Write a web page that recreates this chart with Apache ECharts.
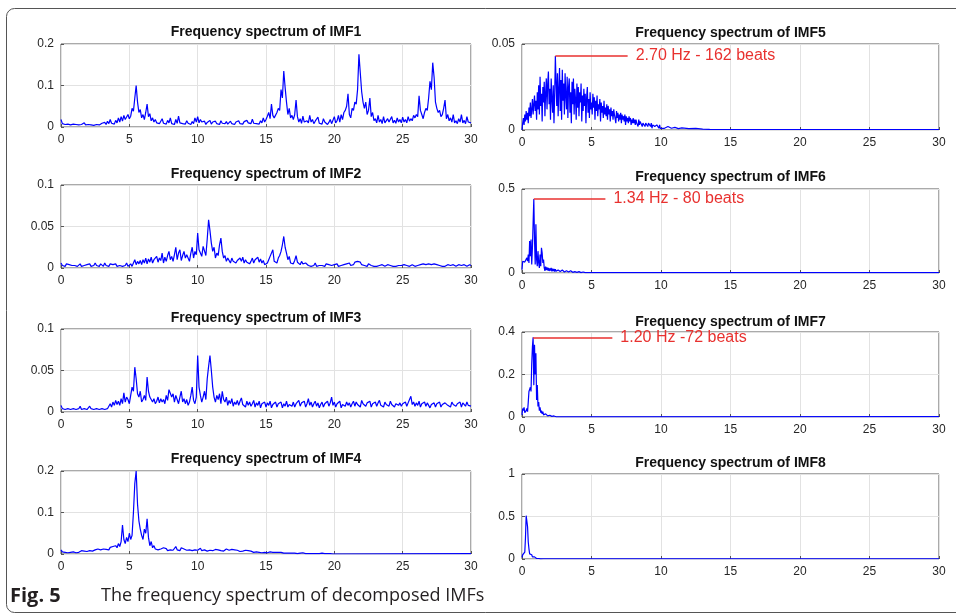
<!DOCTYPE html>
<html>
<head>
<meta charset="utf-8">
<script src="https://cdn.jsdelivr.net/npm/echarts@6/dist/echarts.min.js"></script>
<style>
html,body{margin:0;padding:0;background:#fff}
#main{width:956px;height:616px}
</style>
</head>
<body>
<div id="main"></div>
<script>
// amplitudes, one value per frequency step starting at 0 Hz
var titles = ['Frequency spectrum of IMF1','Frequency spectrum of IMF2','Frequency spectrum of IMF3','Frequency spectrum of IMF4',
              'Frequency spectrum of IMF5','Frequency spectrum of IMF6','Frequency spectrum of IMF7','Frequency spectrum of IMF8'];
var yMax  = [0.2, 0.1, 0.1, 0.2, 0.05, 0.5, 0.4, 1];
var yStep = [0.1, 0.05, 0.05, 0.1, 0.05, 0.5, 0.2, 0.5];
var freqStep = [0.1, 0.1, 0.1, 0.1, 0.05, 0.05, 0.05, 0.05];

var imf1Amp = [
 0.018,0.008,0.012,0.006,0.010,0.007,0.011,0.005,0.009,0.007,
 0.010,0.006,0.008,0.005,0.009,0.006,0.007,0.010,0.005,0.008,
 0.006,0.009,0.005,0.007,0.004,0.008,0.006,0.010,0.005,0.007,
 0.009,0.005,0.011,0.006,0.014,0.008,0.018,0.009,0.013,0.007,
 0.016,0.010,0.022,0.012,0.025,0.014,0.028,0.018,0.024,0.030,
 0.020,0.026,0.045,0.038,0.070,0.100,0.060,0.035,0.042,0.022,
 0.030,0.018,0.035,0.055,0.025,0.032,0.015,0.022,0.012,0.018,
 0.010,0.014,0.008,0.012,0.020,0.009,0.011,0.007,0.016,0.010,
 0.022,0.008,0.012,0.006,0.018,0.009,0.026,0.010,0.014,0.008,
 0.012,0.007,0.015,0.009,0.011,0.006,0.013,0.008,0.022,0.012,
 0.025,0.010,0.018,0.012,0.008,0.014,0.006,0.011,0.009,0.016,
 0.007,0.012,0.009,0.014,0.008,0.011,0.006,0.015,0.009,0.012,
 0.008,0.013,0.007,0.010,0.014,0.008,0.011,0.006,0.012,0.009,
 0.015,0.008,0.011,0.007,0.013,0.009,0.016,0.010,0.012,0.008,
 0.019,0.009,0.013,0.008,0.011,0.007,0.015,0.010,0.022,0.012,
 0.018,0.026,0.035,0.020,0.055,0.028,0.022,0.018,0.035,0.045,
 0.040,0.090,0.070,0.135,0.095,0.060,0.030,0.045,0.022,0.028,
 0.018,0.030,0.065,0.025,0.012,0.020,0.009,0.026,0.012,0.008,
 0.015,0.010,0.028,0.012,0.018,0.008,0.014,0.011,0.024,0.009,
 0.013,0.007,0.020,0.012,0.016,0.006,0.011,0.018,0.008,0.012,
 0.025,0.010,0.015,0.028,0.012,0.030,0.018,0.035,0.040,0.050,
 0.080,0.030,0.022,0.045,0.040,0.060,0.055,0.090,0.175,0.130,
 0.085,0.060,0.045,0.060,0.030,0.040,0.070,0.025,0.035,0.015,
 0.020,0.010,0.028,0.012,0.018,0.008,0.025,0.010,0.014,0.020,
 0.012,0.008,0.025,0.010,0.016,0.009,0.022,0.012,0.018,0.010,
 0.024,0.012,0.018,0.010,0.025,0.014,0.020,0.015,0.028,0.022,
 0.030,0.025,0.075,0.040,0.030,0.020,0.035,0.045,0.040,0.070,
 0.110,0.090,0.155,0.120,0.060,0.045,0.035,0.040,0.025,0.030,
 0.045,0.065,0.020,0.030,0.015,0.022,0.012,0.030,0.010,0.015,
 0.008,0.020,0.012,0.030,0.010,0.016,0.008,0.025,0.012,0.015,
 0.010];

var imf2Amp = [
 0.006,0.003,0.004,0.002,0.005,0.003,0.004,0.002,0.003,0.005,
 0.003,0.004,0.002,0.003,0.005,0.002,0.004,0.003,0.002,0.004,
 0.003,0.005,0.002,0.004,0.003,0.006,0.003,0.004,0.002,0.005,
 0.004,0.002,0.006,0.003,0.004,0.002,0.005,0.003,0.004,0.003,
 0.005,0.002,0.004,0.003,0.005,0.002,0.004,0.003,0.006,0.002,
 0.003,0.005,0.002,0.004,0.010,0.004,0.008,0.005,0.009,0.004,
 0.010,0.006,0.012,0.005,0.011,0.007,0.013,0.006,0.010,0.008,
 0.014,0.007,0.012,0.009,0.018,0.006,0.013,0.008,0.015,0.020,
 0.010,0.014,0.008,0.016,0.025,0.010,0.018,0.022,0.009,0.015,
 0.020,0.012,0.016,0.015,0.008,0.018,0.025,0.012,0.020,0.016,
 0.042,0.022,0.018,0.014,0.026,0.028,0.015,0.035,0.058,0.045,
 0.030,0.020,0.025,0.012,0.018,0.015,0.028,0.036,0.020,0.012,
 0.015,0.008,0.012,0.010,0.006,0.012,0.008,0.010,0.006,0.009,
 0.007,0.012,0.008,0.013,0.006,0.010,0.007,0.009,0.005,0.008,
 0.012,0.006,0.010,0.008,0.013,0.007,0.011,0.006,0.009,0.004,
 0.002,0.006,0.010,0.014,0.012,0.022,0.008,0.010,0.006,0.012,
 0.015,0.020,0.028,0.038,0.025,0.018,0.010,0.014,0.006,0.008,
 0.005,0.009,0.015,0.007,0.006,0.004,0.008,0.005,0.003,0.006,
 0.004,0.003,0.005,0.002,0.004,0.003,0.006,0.002,0.004,0.003,
 0.005,0.003,0.004,0.002,0.005,0.003,0.004,0.006,0.003,0.002,
 0.004,0.003,0.005,0.002,0.004,0.003,0.002,0.004,0.003,0.005,
 0.004,0.006,0.003,0.005,0.004,0.007,0.006,0.008,0.010,0.007,
 0.004,0.005,0.003,0.004,0.002,0.005,0.007,0.003,0.004,0.002,
 0.003,0.002,0.004,0.003,0.002,0.004,0.003,0.002,0.003,0.004,
 0.002,0.003,0.004,0.002,0.003,0.002,0.004,0.003,0.002,0.003,
 0.003,0.004,0.002,0.003,0.004,0.002,0.003,0.004,0.003,0.002,
 0.004,0.003,0.002,0.004,0.003,0.005,0.003,0.004,0.003,0.005,
 0.003,0.004,0.006,0.005,0.003,0.004,0.002,0.003,0.004,0.002,
 0.003,0.002,0.003,0.004,0.002,0.003,0.002,0.004,0.003,0.002,
 0.003,0.004,0.002,0.003,0.002,0.004,0.003,0.002,0.003,0.004,
 0.003];

var imf3Amp = [
 0.008,0.004,0.006,0.003,0.005,0.004,0.006,0.003,0.005,0.004,
 0.006,0.003,0.005,0.004,0.007,0.003,0.005,0.004,0.006,0.003,
 0.005,0.007,0.004,0.006,0.003,0.005,0.004,0.006,0.003,0.005,
 0.004,0.006,0.003,0.005,0.004,0.007,0.010,0.006,0.012,0.008,
 0.014,0.009,0.013,0.008,0.016,0.010,0.023,0.012,0.018,0.015,
 0.010,0.020,0.030,0.025,0.054,0.040,0.022,0.018,0.025,0.012,
 0.015,0.020,0.014,0.042,0.025,0.018,0.020,0.012,0.016,0.010,
 0.013,0.018,0.011,0.016,0.012,0.015,0.010,0.020,0.014,0.027,
 0.025,0.018,0.022,0.012,0.020,0.015,0.010,0.018,0.025,0.012,
 0.016,0.010,0.015,0.008,0.012,0.020,0.030,0.014,0.010,0.018,
 0.068,0.030,0.020,0.012,0.018,0.025,0.015,0.040,0.055,0.068,
 0.050,0.030,0.018,0.012,0.020,0.015,0.022,0.010,0.025,0.015,
 0.012,0.018,0.008,0.014,0.010,0.016,0.007,0.012,0.009,0.014,
 0.008,0.013,0.017,0.009,0.011,0.006,0.013,0.008,0.012,0.007,
 0.010,0.014,0.006,0.011,0.008,0.013,0.005,0.010,0.008,0.012,
 0.006,0.011,0.008,0.013,0.005,0.009,0.007,0.012,0.006,0.010,
 0.008,0.012,0.005,0.010,0.007,0.013,0.006,0.009,0.011,0.007,
 0.012,0.006,0.010,0.008,0.014,0.007,0.011,0.009,0.013,0.006,
 0.010,0.016,0.008,0.012,0.006,0.010,0.013,0.007,0.011,0.005,
 0.009,0.012,0.006,0.010,0.008,0.013,0.007,0.011,0.018,0.008,
 0.012,0.006,0.010,0.008,0.013,0.005,0.009,0.011,0.007,0.012,
 0.008,0.011,0.006,0.010,0.013,0.007,0.012,0.009,0.011,0.006,
 0.014,0.010,0.012,0.007,0.011,0.009,0.013,0.006,0.010,0.008,
 0.012,0.007,0.011,0.014,0.008,0.010,0.006,0.012,0.009,0.011,
 0.007,0.013,0.009,0.011,0.006,0.010,0.012,0.008,0.011,0.007,
 0.010,0.008,0.012,0.007,0.011,0.013,0.019,0.009,0.012,0.007,
 0.011,0.008,0.013,0.006,0.010,0.009,0.012,0.007,0.011,0.008,
 0.005,0.009,0.007,0.011,0.006,0.010,0.008,0.012,0.006,0.009,
 0.007,0.011,0.013,0.008,0.010,0.006,0.012,0.009,0.011,0.007,
 0.010,0.008,0.012,0.006,0.011,0.009,0.007,0.012,0.008,0.010,
 0.007];

var imf4Amp = [
 0.010,0.005,0.008,0.004,0.007,0.003,0.006,0.004,0.008,0.005,
 0.006,0.003,0.007,0.004,0.006,0.008,0.004,0.007,0.005,0.006,
 0.004,0.008,0.005,0.007,0.006,0.010,0.006,0.012,0.008,0.010,
 0.007,0.012,0.009,0.011,0.014,0.010,0.016,0.012,0.018,0.014,
 0.020,0.015,0.025,0.018,0.030,0.070,0.035,0.025,0.040,0.030,
 0.050,0.035,0.045,0.100,0.170,0.200,0.120,0.080,0.060,0.045,
 0.035,0.060,0.050,0.085,0.040,0.020,0.030,0.015,0.020,0.012,
 0.016,0.010,0.014,0.012,0.009,0.015,0.011,0.013,0.008,0.012,
 0.010,0.014,0.009,0.012,0.018,0.010,0.013,0.008,0.015,0.011,
 0.012,0.016,0.009,0.013,0.010,0.014,0.008,0.012,0.010,0.013,
 0.009,0.012,0.014,0.008,0.011,0.010,0.013,0.007,0.011,0.009,
 0.012,0.008,0.010,0.011,0.007,0.010,0.012,0.008,0.009,0.007,
 0.010,0.012,0.008,0.009,0.006,0.011,0.008,0.010,0.006,0.009,
 0.008,0.006,0.010,0.007,0.005,0.009,0.006,0.008,0.005,0.007,
 0.006,0.004,0.007,0.005,0.006,0.004,0.006,0.003,0.005,0.004,
 0.005,0.003,0.004,0.005,0.003,0.004,0.002,0.004,0.003,0.004,
 0.002,0.004,0.003,0.002,0.004,0.002,0.003,0.002,0.004,0.002,
 0.003,0.002,0.003,0.001,0.003,0.002,0.001,0.003,0.002,0.001,
 0.002,0.001,0.003,0.001,0.002,0.001,0.002,0.001,0.002,0.001,
 0.001,0.002,0.001,0.001,0.000,0.001,0.000,0.001,0.000,0.000];
var imf4Tail = [[20, 0.0008], [30, 0.0008]];

var imf5Amp = [
 0.000,0.004,0.007,0.003,0.009,0.005,0.011,0.006,0.010,0.004,
 0.013,0.008,0.016,0.007,0.012,0.018,0.009,0.015,0.020,0.011,
 0.017,0.006,0.022,0.012,0.026,0.009,0.031,0.014,0.021,0.005,
 0.025,0.016,0.028,0.008,0.022,0.030,0.012,0.027,0.034,0.015,
 0.024,0.006,0.030,0.018,0.010,0.026,0.004,0.020,0.043,0.028,
 0.014,0.033,0.008,0.024,0.036,0.011,0.029,0.006,0.035,0.017,
 0.027,0.009,0.033,0.020,0.012,0.031,0.007,0.025,0.030,0.010,
 0.022,0.004,0.028,0.015,0.030,0.009,0.024,0.018,0.006,0.027,
 0.013,0.025,0.008,0.022,0.016,0.027,0.005,0.020,0.011,0.024,
 0.014,0.021,0.004,0.019,0.025,0.010,0.018,0.007,0.022,0.012,
 0.016,0.009,0.021,0.013,0.019,0.006,0.017,0.011,0.020,0.008,
 0.015,0.012,0.018,0.005,0.016,0.010,0.014,0.007,0.017,0.009,
 0.013,0.008,0.015,0.006,0.014,0.009,0.012,0.005,0.013,0.008,
 0.011,0.006,0.012,0.009,0.010,0.004,0.011,0.007,0.010,0.005,
 0.009,0.006,0.010,0.004,0.009,0.006,0.008,0.005,0.009,0.003,
 0.008,0.005,0.007,0.004,0.008,0.005,0.007,0.003,0.006,0.004,
 0.007,0.004,0.006,0.003,0.006,0.004,0.005,0.002,0.006,0.003,
 0.005,0.004,0.005,0.002,0.004,0.003,0.005,0.002,0.004,0.003,
 0.004,0.002,0.004,0.003,0.003,0.002,0.004,0.001,0.003,0.002,
 0.003,0.002,0.003,0.001,0.003,0.002,0.002,0.001,0.003,0.001,
 0.002];
var imf5Tail = [[10.25, 0.001], [10.5, 0.002], [10.75, 0.001], [11, 0.0015], [11.25, 0.0008], [11.5, 0.0012],
                [12, 0.0008], [12.5, 0.001], [13, 0.0005], [13.5, 0.0004], [30, 0.0003]];

var imf6Amp = [
 0.020,0.070,0.060,0.080,0.065,0.075,0.055,0.090,0.070,0.110,
 0.060,0.190,0.100,0.200,0.050,0.150,0.300,0.440,0.200,0.050,
 0.290,0.080,0.040,0.130,0.060,0.030,0.110,0.040,0.150,0.120,
 0.060,0.080,0.030,0.012,0.038,0.018,0.034,0.015,0.030,0.012,
 0.028,0.014,0.030,0.010,0.026,0.012,0.024,0.009,0.022,0.010,
 0.020,0.008,0.018,0.007,0.022,0.009,0.016,0.006,0.018,0.008,
 0.015,0.006,0.016,0.007,0.013,0.005,0.012,0.006,0.011,0.005,
 0.013,0.005,0.010,0.004,0.009,0.004,0.008,0.003,0.009,0.004,
 0.007,0.003,0.008,0.003,0.006,0.002,0.005,0.003,0.006,0.002,
 0.005,0.002,0.004,0.002,0.003,0.002,0.003,0.002,0.002,0.002,
 0.002];
var imf6Tail = [[5.05, 0.002], [30, 0.002]];

var imf7Amp = [
 0.010,0.040,0.030,0.045,0.020,0.015,0.030,0.040,0.025,0.070,
 0.120,0.125,0.140,0.120,0.250,0.330,0.375,0.150,0.340,0.200,
 0.300,0.080,0.150,0.050,0.070,0.030,0.045,0.020,0.030,0.015,
 0.025,0.010,0.018,0.008,0.015,0.007,0.012,0.005,0.010,0.004,
 0.008,0.003,0.007,0.003,0.006,0.002,0.005,0.002,0.004,0.001,
 0.002];
var imf7Tail = [[2.55, 0.002], [30, 0.002]];

var imf8Amp = [
 0.020,0.050,0.030,0.060,0.080,0.250,0.510,0.500,0.380,0.200,
 0.120,0.060,0.080,0.040,0.050,0.025,0.035,0.015,0.025,0.010,
 0.015,0.006,0.010,0.004,0.006,0.003,0.004,0.002,0.003,0.002,
 0.002];
var imf8Tail = [[1.55, 0.003], [30, 0.003]];

// peak annotations (IMF5, IMF6, IMF7)
var peakLabels = ['2.70 Hz - 162 beats', '1.34 Hz - 80 beats', '1.20 Hz -72 beats'];
var peakFreq = [2.4, 0.85, 0.8];
var peakAmp  = [0.043, 0.44, 0.375];

var amps  = [imf1Amp, imf2Amp, imf3Amp, imf4Amp, imf5Amp, imf6Amp, imf7Amp, imf8Amp];
var tails = [null, null, null, imf4Tail, imf5Tail, imf6Tail, imf7Tail, imf8Tail];

function toPairs(vals, step, tail) {
    var out = vals.map(function (v, i) { return [Math.round(i * step * 100) / 100, v]; });
    return tail ? out.concat(tail) : out;
}

// plot boxes in pixels
var boxes = [
    {left: 61, top: 44, width: 410, height: 83},
    {left: 61, top: 185, width: 410, height: 83},
    {left: 61, top: 329, width: 410, height: 83},
    {left: 61, top: 471, width: 410, height: 83},
    {left: 522, top: 44, width: 417, height: 86},
    {left: 522, top: 189, width: 417, height: 84},
    {left: 522, top: 332, width: 417, height: 85},
    {left: 522, top: 474, width: 417, height: 85}
];
var titleY = [32, 174, 318, 459, 33, 177, 322, 463];
var lineEnd = [7.6, 6.0, 6.5];
var labelDrop = [0, 6, 14];   // red labels sit a little under their line in the figure

var axisFont = 'Liberation Sans';
var red = '#e8312f';

var grids = [], xAxes = [], yAxes = [], series = [], graphics = [];

boxes.forEach(function (b, i) {
    grids.push({left: b.left, top: b.top, width: b.width, height: b.height,
        show: true, borderColor: '#555', borderWidth: 1, backgroundColor: '#fff'});
    xAxes.push({type: 'value', gridIndex: i, min: 0, max: 30, interval: 5,
        axisLine: {show: false},
        axisTick: {show: true, inside: true, length: 3, lineStyle: {color: '#555'}},
        axisLabel: {color: '#262626', fontSize: 12, fontFamily: axisFont, margin: 7},
        splitLine: {show: true, lineStyle: {color: '#e2e2e2', width: 1}}});
    yAxes.push({type: 'value', gridIndex: i, min: 0, max: yMax[i], interval: yStep[i],
        axisLine: {show: false},
        axisTick: {show: true, inside: true, length: 3, lineStyle: {color: '#555'}},
        axisLabel: {color: '#262626', fontSize: 12, fontFamily: axisFont, margin: 7},
        splitLine: {show: true, lineStyle: {color: '#e2e2e2', width: 1}}});

    var s = {type: 'line', xAxisIndex: i, yAxisIndex: i,
        data: toPairs(amps[i], freqStep[i], tails[i]),
        showSymbol: false, symbol: 'none', sampling: null, silent: true,
        lineStyle: {color: '#0000ff', width: 1.2}, animation: false};

    var k = i - 4;
    if (k >= 0 && k < 3) {
        s.markLine = {
            silent: true, symbol: ['none', 'none'], animation: false,
            lineStyle: {color: red, width: 1.5, type: 'solid'},
            label: {show: true, position: 'end', distance: 8, formatter: peakLabels[k],
                color: red, fontSize: 16, fontFamily: 'Liberation Sans',
                padding: [labelDrop[k], 0, 0, 0]},
            data: [[{coord: [peakFreq[k], peakAmp[k]]}, {coord: [lineEnd[k], peakAmp[k]]}]]
        };
    }
    series.push(s);

    graphics.push({type: 'text', x: b.left + b.width / 2, y: titleY[i],
        style: {text: titles[i], font: 'bold 14px "Liberation Sans"', fill: '#111',
            textAlign: 'center', textVerticalAlign: 'middle', align: 'center', verticalAlign: 'middle'}});
});

// outer frame and caption
graphics.unshift({type: 'rect', shape: {x: 6.5, y: 8.5, width: 1000, height: 604, r: 8},
    style: {fill: 'none', stroke: '#555', lineWidth: 1}, z: -10});
graphics.push({type: 'text', x: 10, y: 596,
    style: {text: 'Fig. 5', font: 'bold 20px "Open Sans"', fill: '#231f20',
        textVerticalAlign: 'middle', verticalAlign: 'middle'}});
graphics.push({type: 'text', x: 101, y: 596,
    style: {text: 'The frequency spectrum of decomposed IMFs', font: '18px "Open Sans"', fill: '#231f20',
        textVerticalAlign: 'middle', verticalAlign: 'middle'}});

var chart = echarts.init(document.getElementById('main'));
chart.setOption({
    animation: false,
    backgroundColor: '#fff',
    grid: grids,
    xAxis: xAxes,
    yAxis: yAxes,
    series: series,
    graphic: graphics
});
</script>
</body>
</html>
